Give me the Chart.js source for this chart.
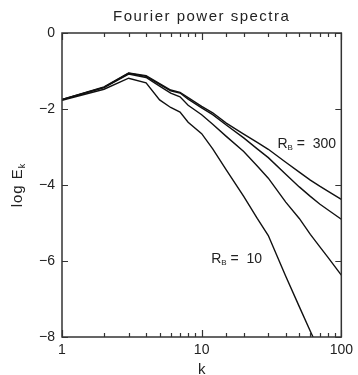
<!DOCTYPE html>
<html>
<head>
<meta charset="utf-8">
<script src="https://cdn.jsdelivr.net/npm/chart.js@4/dist/chart.umd.min.js"></script>
<style>
  body { margin: 0; background: #fff; }
  canvas { display: block; }
</style>
</head>
<body>
<canvas id="chart" width="358" height="375"></canvas>
<script>
// wavenumbers k
const kValues = [1, 2, 3, 4, 5, 6, 7, 8, 10, 12, 15, 20, 25, 30, 40, 50, 60, 70, 80, 100];

// log E_k for each run (top to bottom)
const spec300 = [-1.75, -1.42, -1.05, -1.12, -1.33, -1.50, -1.56, -1.70, -1.93, -2.10, -2.37, -2.66, -2.88, -3.06, -3.40, -3.66, -3.87, -4.03, -4.16, -4.38];
const specB   = [-1.75, -1.43, -1.06, -1.14, -1.35, -1.52, -1.58, -1.74, -1.97, -2.15, -2.42, -2.76, -3.05, -3.28, -3.72, -4.05, -4.30, -4.50, -4.65, -4.90];
const specC   = [-1.76, -1.44, -1.08, -1.17, -1.40, -1.58, -1.68, -1.90, -2.15, -2.40, -2.72, -3.12, -3.50, -3.82, -4.45, -4.88, -5.30, -5.62, -5.90, -6.37];
const spec10  = [-1.77, -1.48, -1.19, -1.31, -1.76, -1.96, -2.08, -2.35, -2.65, -3.05, -3.60, -4.30, -4.88, -5.33, -6.40, -7.20, -7.85, -8.38, null, null];

const yTicks = [0, -2, -4, -6, -8];
const xLabels = [1, 10, 100];

const labels = [
  { text: 'R', sub: 'B', rest: ' =  300', k: 34.9, v: -3.03 },
  { text: 'R', sub: 'B', rest: ' =  10', k: 11.7, v: -6.04 }
];

const ink = '#222';
const fontFamily = '"Liberation Sans", Arial, sans-serif';

function toPoints(vals) {
  return kValues.map((k, i) => ({ x: k, y: vals[i] }));
}

const framePlugin = {
  id: 'frame',
  afterDraw(chart) {
    const ctx = chart.ctx;
    const a = chart.chartArea;
    const xs = chart.scales.x;
    const ys = chart.scales.y;
    ctx.save();
    ctx.strokeStyle = '#333';
    ctx.lineWidth = 1.5;
    ctx.strokeRect(a.left, a.top, a.right - a.left, a.bottom - a.top);

    // inward ticks on x (bottom and top)
    ctx.lineWidth = 1.2;
    xs.ticks.forEach(t => {
      const px = Math.round(xs.getPixelForValue(t.value)) + 0.5;
      const major = xLabels.includes(t.value);
      const len = major ? 7 : 4;
      ctx.beginPath();
      ctx.moveTo(px, a.bottom);
      ctx.lineTo(px, a.bottom - len);
      ctx.moveTo(px, a.top);
      ctx.lineTo(px, a.top + len);
      ctx.stroke();
    });
    // inward ticks on y (left and right)
    yTicks.forEach(v => {
      const py = Math.round(ys.getPixelForValue(v)) + 0.5;
      ctx.beginPath();
      ctx.moveTo(a.left, py);
      ctx.lineTo(a.left + 6, py);
      ctx.moveTo(a.right, py);
      ctx.lineTo(a.right - 6, py);
      ctx.stroke();
    });

    ctx.fillStyle = ink;
    // title
    ctx.font = '15px ' + fontFamily;
    ctx.letterSpacing = '1.5px';
    ctx.textAlign = 'center';
    ctx.textBaseline = 'alphabetic';
    ctx.fillText('Fourier power spectra', (a.left + a.right) / 2, 21);
    ctx.letterSpacing = '0px';

    // x axis title
    ctx.fillText('k', (a.left + a.right) / 2, 374);

    // y axis title with subscript
    ctx.save();
    ctx.translate(22, (a.top + a.bottom) / 2);
    ctx.rotate(-Math.PI / 2);
    ctx.textAlign = 'left';
    ctx.letterSpacing = '1px';
    const main = 'log E';
    ctx.font = '15px ' + fontFamily;
    const w1 = ctx.measureText(main).width;
    ctx.font = '9px ' + fontFamily;
    const w2 = ctx.measureText('k').width;
    const x0 = -(w1 + w2) / 2;
    ctx.font = '15px ' + fontFamily;
    ctx.fillText(main, x0, 0);
    ctx.font = '9px ' + fontFamily;
    ctx.fillText('k', x0 + w1, 3);
    ctx.restore();

    // curve labels
    ctx.textAlign = 'left';
    labels.forEach(l => {
      let x = xs.getPixelForValue(l.k);
      const y = ys.getPixelForValue(l.v);
      ctx.font = '14px ' + fontFamily;
      ctx.fillText(l.text, x, y);
      x += ctx.measureText(l.text).width;
      ctx.font = '8px ' + fontFamily;
      ctx.fillText(l.sub, x, y + 2);
      x += ctx.measureText(l.sub).width;
      ctx.font = '14px ' + fontFamily;
      ctx.fillText(l.rest, x, y);
    });
    ctx.restore();
  }
};

const lineStyle = {
  borderColor: '#111',
  borderWidth: 1.4,
  pointRadius: 0,
  tension: 0,
  fill: false
};

new Chart(document.getElementById('chart'), {
  type: 'line',
  data: {
    datasets: [
      Object.assign({ label: 'R_B = 300', data: toPoints(spec300) }, lineStyle),
      Object.assign({ label: 'run 2', data: toPoints(specB) }, lineStyle),
      Object.assign({ label: 'run 3', data: toPoints(specC) }, lineStyle),
      Object.assign({ label: 'R_B = 10', data: toPoints(spec10) }, lineStyle)
    ]
  },
  options: {
    responsive: false,
    animation: false,
    devicePixelRatio: 1,
    layout: { padding: { top: 33, right: 16, left: 0, bottom: 0 } },
    plugins: {
      legend: { display: false },
      tooltip: { enabled: false },
      title: { display: false }
    },
    scales: {
      x: {
        type: 'logarithmic',
        min: 1,
        max: 100,
        grid: { display: false, drawTicks: false },
        border: { display: false },
        afterFit(scale) { scale.height = 38; },
        ticks: {
          autoSkip: false,
          maxRotation: 0,
          padding: 5,
          color: ink,
          font: { family: fontFamily, size: 14 },
          callback: v => xLabels.includes(v) ? String(v) : ''
        }
      },
      y: {
        min: -8,
        max: 0,
        grid: { display: false, drawTicks: false },
        border: { display: false },
        afterFit(scale) { scale.width = 62; },
        afterBuildTicks(scale) { scale.ticks = yTicks.map(v => ({ value: v })); },
        ticks: {
          padding: 7,
          color: ink,
          font: { family: fontFamily, size: 14 },
          callback: v => v === 0 ? '0' : '\u2212' + Math.abs(v)
        }
      }
    }
  },
  plugins: [framePlugin]
});
</script>
</body>
</html>
